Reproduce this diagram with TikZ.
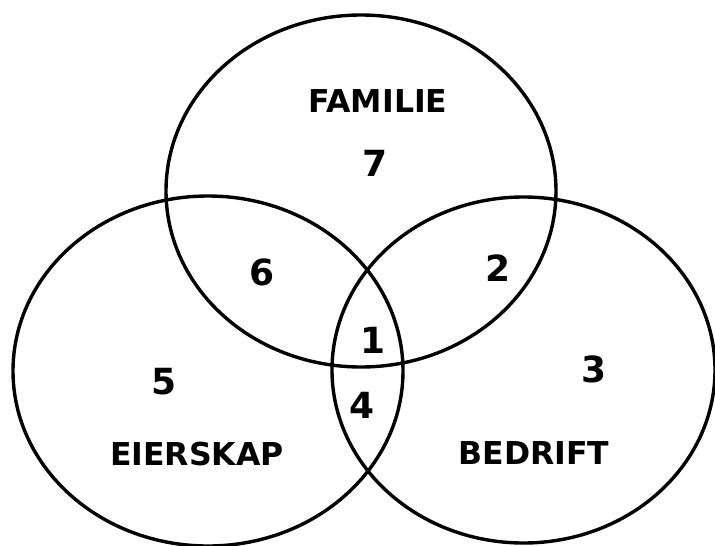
\documentclass[tikz,border=0pt]{standalone}
\usepackage{fontspec}
\setmainfont{DejaVu Sans}
\usetikzlibrary{shapes.geometric}
\tikzset{
  setring/.style={draw=black, line width=3.4pt, ellipse, inner sep=0pt, outer sep=0pt},
  setlabel/.style={font=\fontsize{31.5}{32}\selectfont\bfseries, inner sep=0pt},
  zonenum/.style={font=\fontsize{36}{38}\selectfont\bfseries, inner sep=0pt}
}
\begin{document}
\begin{tikzpicture}[x=1pt,y=-1pt]
  \useasboundingbox (0,0) rectangle (715,546);
  \clip (0,0) rectangle (715,546);
  \node[setring, minimum width=390pt, minimum height=352pt] (fam) at (361,191) {};
  \node[setring, minimum width=390pt, minimum height=350pt] (eie) at (208,371) {};
  \node[setring, minimum width=383pt, minimum height=346pt] (bed) at (523.5,370) {};
  \node[setlabel] (lfam) at (378,101) {FAMILIE};
  \node[setlabel] (leie) at (197,454) {EIERSKAP};
  \node[setlabel] (lbed) at (534,453) {BEDRIFT};
  \node[zonenum] (n7) at (375,163) {7};
  \node[zonenum] (n6) at (262,272) {6};
  \node[zonenum] (n2) at (498,268) {2};
  \node[zonenum] (n1) at (373,340) {1};
  \node[zonenum] (n4) at (362,405) {4};
  \node[zonenum] (n5) at (164,382) {5};
  \node[zonenum] (n3) at (594,369) {3};
\end{tikzpicture}
\end{document}
